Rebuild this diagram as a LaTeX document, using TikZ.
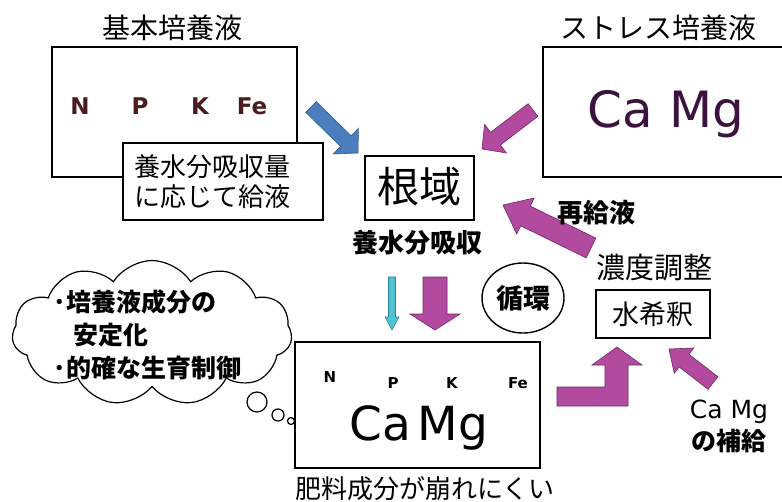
\documentclass[tikz,border=0pt]{standalone}
\usepackage{fontspec}
\setmainfont{Noto Sans CJK JP}
\newfontfamily\lat{DejaVu Sans}
\usetikzlibrary{calc,shapes.symbols,shapes.geometric}
\definecolor{mag}{RGB}{178,74,160}
\definecolor{magd}{RGB}{110,40,100}
\definecolor{blu}{RGB}{74,126,190}
\definecolor{blud}{RGB}{50,90,140}
\definecolor{cya}{RGB}{80,195,210}
\definecolor{cyad}{RGB}{40,130,145}
\definecolor{npk}{RGB}{75,28,30}
\definecolor{cam}{RGB}{60,18,62}
\newcommand{\fs}[1]{\fontsize{#1}{#1}\selectfont}
\newcommand{\blockarrow}[6]{%
  \coordinate (bah) at ($(#2)!#5!(#1)$);
  \filldraw[#6] ($(#1)!#3!90:(#2)$) -- ($(bah)!#3!90:(#2)$) -- ($(bah)!#4!90:(#2)$) -- (#2) -- ($(bah)!#4!-90:(#2)$) -- ($(bah)!#3!-90:(#2)$) -- ($(#1)!#3!-90:(#2)$) -- cycle;
}
\tikzset{
  bigbox/.style={draw, line width=2.6pt, fill=white},
  smallbox/.style={draw, line width=1.8pt, fill=white},
  magarrow/.style={fill=mag, draw=magd, line width=0.6pt},
  bluarrow/.style={fill=blu, draw=blud, line width=0.6pt},
  cyaarrow/.style={fill=cya, draw=cyad, line width=0.6pt},
  title/.style={font=\fs{28}},
  btxt/.style={font=\fs{26}\bfseries},
}
\begin{document}
\begin{tikzpicture}[x=1pt,y=-1pt]
\clip (0,0) rectangle (782,501);
\fill[white] (0,0) rectangle (782,501);

% titles
\node[title] (t1) at (172,28) {基本培養液};
\node[title] (t2) at (658,28) {ストレス培養液};

% box 1
\draw[bigbox] (52,47) rectangle (297,177);
\node[font=\lat\bfseries\fs{23}, text=npk] (n1) at (80,106) {N};
\node[font=\lat\bfseries\fs{23}, text=npk] (p1) at (140,106) {P};
\node[font=\lat\bfseries\fs{23}, text=npk] (k1) at (200,106) {K};
\node[font=\lat\bfseries\fs{23}, text=npk] (fe1) at (252,106) {Fe};

% feed box
\draw[smallbox] (123,143) rectangle (323,220);
\node[font=\fs{26}] (feed1) at (212,167) {養水分吸収量};
\node[font=\fs{26}] (feed2) at (212,197) {に応じて給液};

% box 3
\draw[bigbox] (543,47) rectangle (800,177);
\node[font=\lat\fs{50}, text=cam] (cm3) at (666,114) {Ca Mg};

% root
\draw[smallbox] (365,156) rectangle (474,220);
\node[font=\fs{42}] (root) at (419,187) {根域};
\node[btxt] (abs) at (417,243) {養水分吸収};

% arrows top
\coordinate (ba1) at (311,107);
\coordinate (bb1) at (358,153);
\blockarrow{ba1}{bb1}{7.5pt}{18pt}{17pt}{bluarrow}
\coordinate (ma1) at (533,110);
\coordinate (mb1) at (482,149);
\blockarrow{ma1}{mb1}{8pt}{18pt}{17pt}{magarrow}
\coordinate (ra) at (591,248);
\coordinate (rb) at (503,205);
\blockarrow{ra}{rb}{11pt}{20pt}{25pt}{magarrow}
\node[btxt] (re) at (596,213) {再給液};

% down arrows
\coordinate (ca) at (392,277);
\coordinate (cb) at (392,330);
\blockarrow{ca}{cb}{3.5pt}{7pt}{13pt}{cyaarrow}
\coordinate (da) at (435,277);
\coordinate (db) at (435,330);
\blockarrow{da}{db}{12pt}{25pt}{16pt}{magarrow}

% circulation
\node[draw, ellipse, line width=1.4pt, minimum width=82pt, minimum height=70pt, font=\fs{27}\bfseries, inner sep=0pt] (circ) at (523,298) {循環};

% concentration adjust
\node[font=\fs{29}] (conc) at (654,268) {濃度調整};
\draw[smallbox] (596,290) rectangle (710,338);
\node[font=\fs{27}] (dil) at (653,314) {水希釈};

% bent arrow
\filldraw[magarrow] (557,387) -- (605,387) -- (605,365) -- (592,365) -- (617,347) -- (642,365) -- (628,365) -- (628,406) -- (557,406) -- cycle;

% supply arrow
\coordinate (sa) at (713,383);
\coordinate (sb) at (669,349);
\blockarrow{sa}{sb}{8pt}{16pt}{19pt}{magarrow}
\node[font=\lat\fs{25}] (cms) at (729,412) {Ca Mg};
\node[font=\fs{25}\bfseries] (sup) at (729,441) {の補給};

% bottom box
\draw[bigbox] (295,342) rectangle (540,468);
\node[font=\lat\bfseries\fs{15}] (n2) at (330,377) {N};
\node[font=\lat\bfseries\fs{15}] (p2) at (393,383) {P};
\node[font=\lat\bfseries\fs{15}] (k2) at (452,383) {K};
\node[font=\lat\bfseries\fs{15}] (fe2) at (518,383) {Fe};
\node[font=\lat\fs{47}, anchor=base] (ca2) at (380,440) {Ca};
\node[font=\lat\fs{47}, anchor=base] (mg2) at (453,440) {Mg};
\node[font=\fs{26}] (fert) at (425,489) {肥料成分が崩れにくい};

% cloud
\node[draw, cloud, cloud puffs=11, cloud puff arc=115, aspect=2, line width=1.2pt, minimum width=280pt, minimum height=145pt, fill=white] (cloud) at (152,333) {};
\node[draw, circle, line width=1.2pt, minimum size=20pt, inner sep=0pt] (b1) at (257,402) {};
\node[draw, circle, line width=1.2pt, minimum size=12pt, inner sep=0pt] (b2) at (278,415) {};
\node[draw, circle, line width=1.2pt, minimum size=7pt, inner sep=0pt] (b3) at (291,421) {};
\node[font=\fs{25}\bfseries, anchor=west] (c1) at (50,302) {･培養液成分の};
\node[font=\fs{25}\bfseries, anchor=west] (c2) at (70,335) {安定化};
\node[font=\fs{25}\bfseries, anchor=west] (c3) at (50,368) {･的確な生育制御};
\end{tikzpicture}
\end{document}
